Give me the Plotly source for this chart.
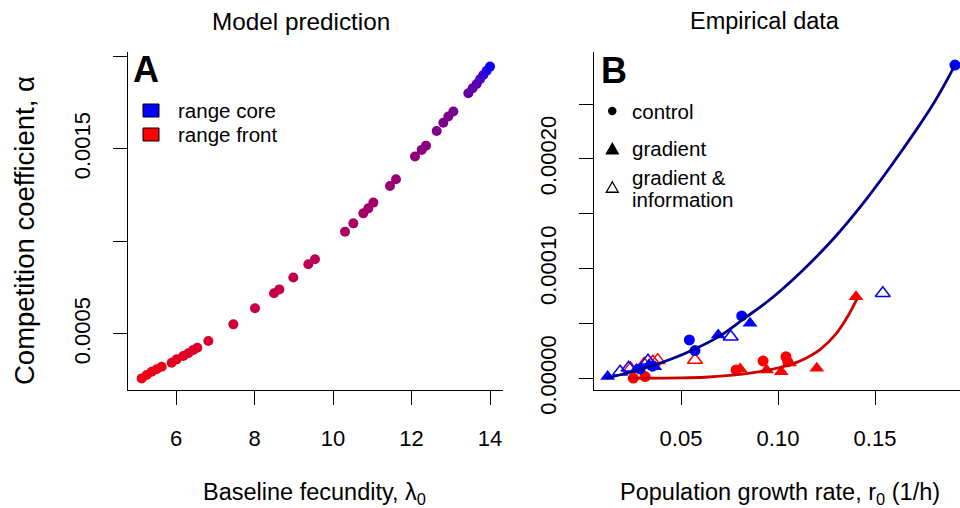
import plotly.graph_objects as go

# ---------------- Panel A data (Model prediction) ----------------
lam_a = [5.125, 5.253, 5.380, 5.507, 5.635, 5.890, 6.017, 6.187, 6.314, 6.442,
         6.543, 6.824, 7.461, 8.013, 8.497, 8.633, 8.989, 9.371, 9.541, 10.306,
         10.518, 10.773, 10.900, 11.028, 11.452, 11.605, 12.089, 12.259, 12.369, 12.641,
         12.811, 12.938, 13.066, 13.448, 13.558, 13.660, 13.745, 13.830, 13.915, 14.000]
alpha_a = [0.000260, 0.000278, 0.000296, 0.000309, 0.000323, 0.000345, 0.000363, 0.000381, 0.000396, 0.000414,
           0.000426, 0.000462, 0.000552, 0.000639, 0.000720, 0.000741, 0.000805, 0.000877, 0.000904, 0.001053,
           0.001098, 0.001152, 0.001179, 0.001210, 0.001300, 0.001336, 0.001459, 0.001495, 0.001518, 0.001597,
           0.001642, 0.001675, 0.001702, 0.001801, 0.001828, 0.001851, 0.001877, 0.001900, 0.001923, 0.001945]

# ---------------- Panel B data (Empirical data) ----------------
core_control_r = [0.0289, 0.0353, 0.0543, 0.0572, 0.0813, 0.1912]
core_control_v = [0.0000085, 0.0000110, 0.0000349, 0.0000252, 0.0000568, 0.0002855]
core_grad_r = [0.0122, 0.0270, 0.0335, 0.0365, 0.0692, 0.0856]
core_grad_v = [0.0000015, 0.0000080, 0.0000120, 0.0000105, 0.0000395, 0.0000501]
core_info_r = [0.0186, 0.0230, 0.0330, 0.0756, 0.1540]
core_info_v = [0.0000060, 0.0000095, 0.0000160, 0.0000379, 0.0000775]

front_control_r = [0.0254, 0.0315, 0.0784, 0.0923, 0.1041, 0.1050]
front_control_v = [0.0000002, 0.0000015, 0.0000076, 0.0000158, 0.0000197, 0.0000150]
front_grad_r = [0.0805, 0.0941, 0.1017, 0.1060, 0.1200, 0.1402]
front_grad_v = [0.0000085, 0.0000076, 0.0000060, 0.0000140, 0.0000091, 0.0000744]
front_info_r = [0.0240, 0.0310, 0.0355, 0.0380, 0.0572]
front_info_v = [0.0000090, 0.0000130, 0.0000150, 0.0000165, 0.0000167]

# fitted curves
core_fit_r = [0.01134, 0.02887, 0.04433, 0.05722, 0.07010, 0.08299, 0.09588, 0.11134,
              0.12845, 0.14598, 0.16299, 0.18000, 0.19124]
core_fit_v = [0.0, 0.0000080, 0.0000171, 0.0000267, 0.0000386, 0.0000550, 0.0000718, 0.0000960,
              0.0001270, 0.0001643, 0.0002053, 0.0002500, 0.0002855]
front_fit_r = [0.02268, 0.04948, 0.06237, 0.07526, 0.08814, 0.10103, 0.11134, 0.12165,
               0.12990, 0.13608, 0.14072]
front_fit_v = [0.0, 0.0000003, 0.0000009, 0.0000026, 0.0000053, 0.0000098, 0.0000158, 0.0000262,
               0.0000404, 0.0000568, 0.0000723]

# ticks
xa_ticks = [6, 8, 10, 12, 14]
ya_ticks = [0.0005, 0.0010, 0.0015, 0.0020]
ya_text = ["0.0005", "", "0.0015", ""]
xb_ticks = [0.05, 0.10, 0.15]
xb_text = ["0.05", "0.10", "0.15"]
yb_ticks = [0.0, 0.00005, 0.00010, 0.00015, 0.00020, 0.00025]
yb_text = ["0.00000", "", "0.00010", "", "0.00020", ""]

BLUE = "rgb(0,0,255)"
RED = "rgb(255,0,0)"
FONT = "Liberation Sans"
W, H = 960, 508

def px(x):
    return x / W

def py(y):
    return 1 - y / H

cscale = [[0.0, "rgb(240,0,20)"], [0.25, "rgb(210,0,55)"], [0.5, "rgb(185,0,85)"],
          [0.65, "rgb(165,0,105)"], [0.8, "rgb(140,0,125)"], [0.92, "rgb(115,0,145)"],
          [0.97, "rgb(85,0,185)"], [1.0, "rgb(10,0,250)"]]

fig = go.Figure()
fig.add_trace(go.Scatter(x=lam_a, y=alpha_a, mode="markers", xaxis="x", yaxis="y",
                         marker=dict(size=10, color=lam_a, colorscale=cscale, cmin=5.1, cmax=14,
                                     line=dict(width=0)), showlegend=False))

def pts(x, y, color, symbol, size, open_=False):
    m = dict(size=size, symbol=symbol, color=color)
    if open_:
        m["line"] = dict(color=color, width=1.5)
    else:
        m["line"] = dict(width=0)
    fig.add_trace(go.Scatter(x=x, y=y, mode="markers", xaxis="x2", yaxis="y2",
                             marker=m, showlegend=False))

pts(front_info_r, front_info_v, RED, "triangle-up-open", 13, True)
pts(core_info_r, core_info_v, BLUE, "triangle-up-open", 13, True)
pts(front_control_r, front_control_v, RED, "circle", 11)
pts(front_grad_r, front_grad_v, RED, "triangle-up", 13)
pts(core_control_r, core_control_v, BLUE, "circle", 11)
pts(core_grad_r, core_grad_v, BLUE, "triangle-up", 13)

fig.add_trace(go.Scatter(x=front_fit_r, y=front_fit_v, mode="lines", xaxis="x2", yaxis="y2",
                         line=dict(color="rgb(205,0,0)", width=2.8, shape="spline"), showlegend=False))
fig.add_trace(go.Scatter(x=core_fit_r, y=core_fit_v, mode="lines", xaxis="x2", yaxis="y2",
                         line=dict(color="rgb(0,0,139)", width=2.8, shape="spline"), showlegend=False))

ydom = [py(390), py(52)]
axis_common = dict(showline=True, linecolor="black", linewidth=1.2, ticks="outside", ticklen=14,
                   tickwidth=1.2, tickcolor="black", showgrid=False, zeroline=False, automargin=False,
                   tickfont=dict(family=FONT, size=22, color="black"))

fig.update_layout(
    width=W, height=H, margin=dict(l=0, r=0, t=0, b=0, pad=0, autoexpand=False),
    paper_bgcolor="white", plot_bgcolor="white",
    font=dict(family=FONT, color="black"),
    xaxis=dict(domain=[px(128), px(503)], range=[4.777, 14.331], anchor="y",
               tickvals=xa_ticks, ticklabelstandoff=14, **axis_common),
    yaxis=dict(domain=ydom, range=[0.0001973, 0.002024], anchor="x",
               tickvals=ya_ticks, ticktext=ya_text, tickangle=-90, ticklabelstandoff=14, **axis_common),
    xaxis2=dict(domain=[px(594), 1.0], range=[0.005155, 0.19381], anchor="y2",
                tickvals=xb_ticks, ticktext=xb_text, ticklabelstandoff=14, **axis_common),
    yaxis2=dict(domain=ydom, range=[-0.0000107, 0.0002974], anchor="x2",
                tickvals=yb_ticks, ticktext=yb_text, tickangle=-90, ticklabelstandoff=14, **axis_common),
)

ann = []
def text(x, y, s, size, xanchor="center", yanchor="middle", angle=0):
    ann.append(dict(x=px(x), y=py(y), xref="paper", yref="paper", text=s, showarrow=False,
                    xanchor=xanchor, yanchor=yanchor, textangle=angle,
                    font=dict(family=FONT, size=size, color="black")))

text(301, 21, "Model prediction", 24.3)
text(765, 21, "Empirical data", 23.5)
text(314, 493, "Baseline fecundity, λ<sub>0</sub>", 23.5)
text(780, 493, "Population growth rate, r<sub>0</sub> (1/h)", 23.5)
text(24, 231, "Competition coefficient, α", 27.5, angle=-90)
text(146, 70, "<b>A</b>", 36)
text(614, 71, "<b>B</b>", 36)
text(176, 110, "range core", 20.5, xanchor="left")
text(176, 134, "range front", 20.5, xanchor="left")
text(630, 111, "control", 20.5, xanchor="left")
text(630, 149, "gradient", 20.5, xanchor="left")
text(630, 177, "gradient &", 20.5, xanchor="left")
text(630, 200, "information", 20.5, xanchor="left")
fig.update_layout(annotations=ann)

shapes = []
shapes.append(dict(type="rect", xref="paper", yref="paper", x0=px(143), x1=px(159), y0=py(117), y1=py(104),
                   fillcolor=BLUE, line=dict(color="black", width=1)))
shapes.append(dict(type="rect", xref="paper", yref="paper", x0=px(143), x1=px(159), y0=py(141), y1=py(128),
                   fillcolor=RED, line=dict(color="black", width=1)))
shapes.append(dict(type="circle", xref="paper", yref="paper", x0=px(608), x1=px(616.5), y0=py(115.2), y1=py(106.8),
                   fillcolor="black", line=dict(color="black", width=0)))

def tri(cx, cy, w, h, filled):
    path = "M {} {} L {} {} L {} {} Z".format(px(cx - w / 2), py(cy + h / 2), px(cx + w / 2), py(cy + h / 2),
                                               px(cx), py(cy - h / 2))
    d = dict(type="path", xref="paper", yref="paper", path=path, line=dict(color="black", width=1.3))
    d["fillcolor"] = "black" if filled else "rgba(0,0,0,0)"
    return d

shapes.append(tri(612.3, 148.5, 12, 10.5, True))
shapes.append(tri(612.3, 187, 12, 10.5, False))
fig.update_layout(shapes=shapes)

fig.write_html("out.html")
